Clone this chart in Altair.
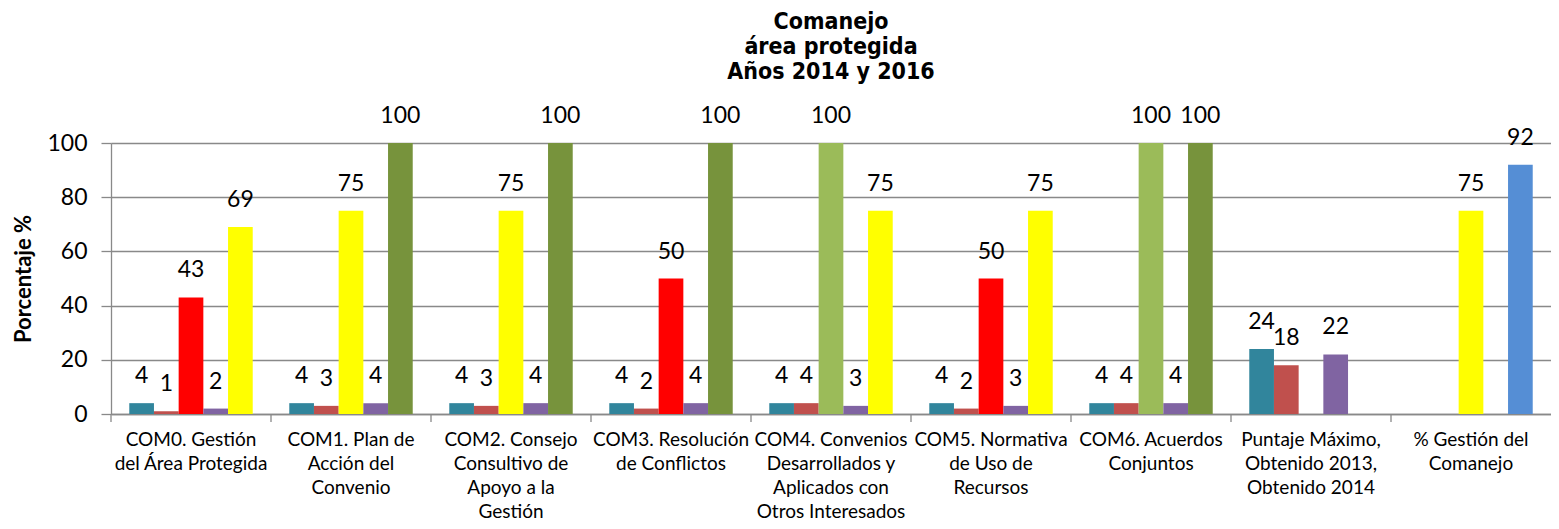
import altair as alt
import pandas as pd

# ---- data ----
CATEGORIES = [
    "COM0. Gestión|del Área Protegida",
    "COM1. Plan de|Acción del|Convenio",
    "COM2. Consejo|Consultivo de|Apoyo a la|Gestión",
    "COM3. Resolución|de Conflictos",
    "COM4. Convenios|Desarrollados y|Aplicados con|Otros Interesados",
    "COM5. Normativa|de Uso de|Recursos",
    "COM6. Acuerdos|Conjuntos",
    "Puntaje Máximo,|Obtenido 2013,|Obtenido 2014",
    "% Gestión del|Comanejo",
]
SERIES = ["Puntaje Máximo", "Obtenido 2013", "% 2013", "Obtenido 2014", "% 2014"]

PUNTAJE_MAXIMO = [4, 4, 4, 4, 4, 4, 4, 24, None]
OBTENIDO_2013 = [1, 3, 3, 2, 4, 2, 4, 18, None]
PORC_2013 = [43, 75, 75, 50, 100, 50, 100, None, 75]
OBTENIDO_2014 = [2, 4, 4, 4, 3, 3, 4, 22, None]
PORC_2014 = [69, 100, 100, 100, 75, 75, 100, None, 92]

# ---- styles ----
TEAL, BROWN, PURPLE = "#31859C", "#C0504D", "#8064A2"
RED, YELLOW, LGREEN, DGREEN, BLUE = "#FF0000", "#FFFF00", "#9BBB59", "#77933C", "#558ED5"
PORC_2013_COLORS = [RED, YELLOW, YELLOW, RED, LGREEN, RED, LGREEN, None, YELLOW]
PORC_2014_COLORS = [YELLOW, DGREEN, DGREEN, DGREEN, YELLOW, YELLOW, DGREEN, None, BLUE]
GRID = "#898989"
FONT = "Lato"

series_data = [
    ("Puntaje Máximo", PUNTAJE_MAXIMO, [TEAL] * 9),
    ("Obtenido 2013", OBTENIDO_2013, [BROWN] * 9),
    ("% 2013", PORC_2013, PORC_2013_COLORS),
    ("Obtenido 2014", OBTENIDO_2014, [PURPLE] * 9),
    ("% 2014", PORC_2014, PORC_2014_COLORS),
]
rows = []
for i, cat in enumerate(CATEGORIES):
    for name, vals, cols in series_data:
        if vals[i] is None:
            continue
        rows.append({"cat": cat, "serie": name, "valor": vals[i], "color": cols[i]})
df = pd.DataFrame(rows)
ticks_df = pd.DataFrame({"cat": CATEGORIES})

W, H = 1440, 271

x_enc = alt.X(
    "cat:N",
    scale=alt.Scale(domain=CATEGORIES, paddingInner=0, paddingOuter=0),
    axis=alt.Axis(
        title=None, labelAngle=0, ticks=False, grid=False,
        labelExpr="split(datum.label, '|')",
        labelFont=FONT, labelFontSize=19, labelLineHeight=24,
        labelPadding=16, labelLimit=0, labelColor="black",
        domainColor=GRID, domainWidth=1.3,
    ),
)
xo_enc = alt.XOffset("serie:N", scale=alt.Scale(domain=SERIES, paddingInner=0, paddingOuter=0.74))
y_enc = alt.Y(
    "valor:Q",
    scale=alt.Scale(domain=[0, 100], nice=False),
    axis=alt.Axis(
        title="Porcentaje %", values=[0, 20, 40, 60, 80, 100],
        titleFont=FONT, titleFontSize=22, titleFontWeight="bold", titleColor="black",
        titlePadding=11,
        labelFont=FONT, labelFontSize=23, labelColor="black", labelPadding=14,
        tickSize=10, tickColor=GRID, tickWidth=1.3,
        domainColor=GRID, domainWidth=1.3,
        grid=True, gridColor=GRID, gridWidth=1.3,
    ),
)

bars = alt.Chart(df).mark_bar().encode(
    x=x_enc, xOffset=xo_enc, y=y_enc,
    color=alt.Color("color:N", scale=None),
)
labels = alt.Chart(df).mark_text(
    font=FONT, fontSize=23, color="black", dy=-27, baseline="middle"
).encode(
    x=alt.X("cat:N"), xOffset=alt.XOffset("serie:N"), y=alt.Y("valor:Q"),
    text=alt.Text("valor:Q", format="d"),
)
xticks = alt.Chart(ticks_df).mark_rule(color=GRID, strokeWidth=1.3).encode(
    x=alt.X("cat:N", bandPosition=0),
    y=alt.value(H), y2=alt.value(H + 8),
)

chart = alt.layer(bars, labels, xticks).properties(
    width=W, height=H,
    autosize=alt.AutoSizeParams(type="none"),
    padding={"left": 103, "top": 135, "right": 0, "bottom": 110},
    title=alt.TitleParams(
        text=["Comanejo", "área protegida", "Años 2014 y 2016"],
        font="DejaVu Sans Condensed", fontSize=23, fontWeight="bold",
        lineHeight=25, anchor="middle", color="black", offset=21,
    ),
).configure_view(stroke=None).configure(background="white")

chart.save("out.html", embed_options={"renderer": "svg", "actions": False})
